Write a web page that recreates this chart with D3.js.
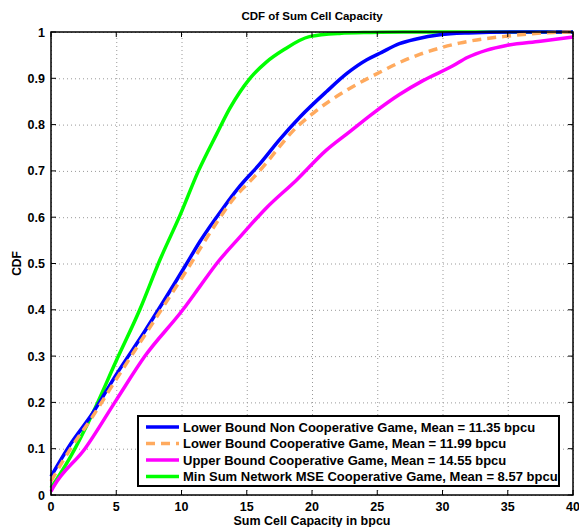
<html>
<head>
  <script src="https://d3js.org/d3.v7.min.js"></script>
  <style>
    body { margin: 0; background: #fff; }
    svg text { font-family: "Liberation Sans", Arial, sans-serif; font-weight: bold; }
    .grid line { stroke: #999; stroke-dasharray: 1,3; }
    .grid .domain { stroke: none; }
  </style>
</head>
<body>
  <svg id="chart" width="579" height="527"></svg>
  <script>
    // tick values
    const xTicks = [0, 5, 10, 15, 20, 25, 30, 35, 40];
    const yTicks = [0, 0.1, 0.2, 0.3, 0.4, 0.5, 0.6, 0.7, 0.8, 0.9, 1];

    // series (capacity in bpcu, CDF value)
    const blueX = [0, 1.5, 3.2, 5.0, 7.1, 10.4, 11.4, 13.2, 14.5, 16.0, 17.5, 19.1, 21.1, 22.7, 24.2, 25.2, 26.7, 28.0, 29.8, 32, 35.4, 40];
    const blueY = [0.04, 0.11, 0.177, 0.26, 0.35, 0.50, 0.547, 0.62, 0.668, 0.715, 0.767, 0.817, 0.871, 0.911, 0.94, 0.954, 0.975, 0.985, 0.994, 0.998, 1.0, 1.0];

    const orangeX = [0, 1.5, 3.2, 5.0, 7.3, 10.5, 12.5, 13.9, 15.5, 16.5, 17.3, 18.6, 20.1, 22.7, 25.2, 26.7, 28.3, 31.3, 34.9, 38.5, 40];
    const orangeY = [0.03, 0.10, 0.17, 0.25, 0.35, 0.49, 0.58, 0.637, 0.685, 0.717, 0.745, 0.788, 0.825, 0.875, 0.913, 0.934, 0.952, 0.976, 0.991, 0.999, 1.0];

    const magentaX = [0, 0.2, 2.6, 5.0, 7.2, 10.1, 11.4, 12.7, 14.5, 16.5, 18.8, 21.1, 22.9, 24.7, 26.7, 28.5, 30.8, 31.9, 33.4, 34.9, 37.5, 40];
    const magentaY = [0.008, 0.018, 0.10, 0.205, 0.30, 0.40, 0.45, 0.50, 0.558, 0.62, 0.68, 0.745, 0.785, 0.825, 0.865, 0.895, 0.927, 0.945, 0.961, 0.971, 0.98, 0.989];

    const greenX = [0, 1.5, 3.25, 5.0, 6.8, 8.35, 9.9, 11.3, 12.7, 13.7, 15.25, 16.5, 17.8, 19.8, 22.1, 24.5, 27, 40];
    const greenY = [0.015, 0.083, 0.18, 0.29, 0.40, 0.508, 0.605, 0.70, 0.78, 0.835, 0.90, 0.935, 0.961, 0.99, 0.997, 0.999, 1.0, 1.0];

    const legendLabels = [
      "Lower Bound Non Cooperative Game, Mean = 11.35 bpcu",
      "Lower Bound Cooperative Game, Mean = 11.99 bpcu",
      "Upper Bound Cooperative Game, Mean = 14.55 bpcu",
      "Min Sum Network MSE Cooperative Game, Mean = 8.57 bpcu"
    ];

    const svg = d3.select("svg#chart");
    const margin = { top: 32, right: 6, bottom: 32, left: 51 };
    const width = +svg.attr("width") - margin.left - margin.right;
    const height = +svg.attr("height") - margin.top - margin.bottom;

    const x = d3.scaleLinear().domain([0, 40]).range([0, width]);
    const y = d3.scaleLinear().domain([0, 1]).range([height, 0]);

    const g = svg.append("g").attr("transform", "translate(" + margin.left + "," + margin.top + ")");

    // grid
    g.append("g").attr("class", "grid")
      .attr("transform", "translate(0," + height + ")")
      .call(d3.axisBottom(x).tickValues(xTicks).tickSize(-height).tickFormat(""));
    g.append("g").attr("class", "grid")
      .call(d3.axisLeft(y).tickValues(yTicks).tickSize(-width).tickFormat(""));

    // curves
    const series = [
      { xs: blueX, ys: blueY, color: "#0000ff", dash: null },
      { xs: orangeX, ys: orangeY, color: "#ffaa5e", dash: "9,6" },
      { xs: magentaX, ys: magentaY, color: "#ff00ff", dash: null },
      { xs: greenX, ys: greenY, color: "#00ff00", dash: null }
    ];
    const line = d3.line().curve(d3.curveMonotoneX).x(d => x(d[0])).y(d => y(d[1]));

    // green and magenta first, blue then orange on top
    [3, 2, 0, 1].forEach(i => {
      const s = series[i];
      g.append("path")
        .datum(d3.zip(s.xs, s.ys))
        .attr("d", line)
        .attr("fill", "none")
        .attr("stroke", s.color)
        .attr("stroke-width", 3.5)
        .attr("stroke-dasharray", s.dash);
    });

    // frame and ticks
    g.append("rect").attr("width", width).attr("height", height)
      .attr("fill", "none").attr("stroke", "#000").attr("stroke-width", 1.5);

    const tickLen = 5;
    xTicks.forEach(t => {
      g.append("line").attr("x1", x(t)).attr("x2", x(t)).attr("y1", height).attr("y2", height - tickLen).attr("stroke", "#000");
      g.append("line").attr("x1", x(t)).attr("x2", x(t)).attr("y1", 0).attr("y2", tickLen).attr("stroke", "#000");
      g.append("text").text(d3.format("")(t))
        .attr("x", x(t)).attr("y", height + 16)
        .attr("text-anchor", "middle").attr("font-size", "12.5px");
    });
    yTicks.forEach(t => {
      g.append("line").attr("x1", 0).attr("x2", tickLen).attr("y1", y(t)).attr("y2", y(t)).attr("stroke", "#000");
      g.append("line").attr("x1", width).attr("x2", width - tickLen).attr("y1", y(t)).attr("y2", y(t)).attr("stroke", "#000");
      g.append("text").text(d3.format("")(t))
        .attr("x", -6).attr("y", y(t) + 4.5)
        .attr("text-anchor", "end").attr("font-size", "12.5px");
    });

    // titles
    svg.append("text").text("CDF of Sum Cell Capacity")
      .attr("x", margin.left + width / 2).attr("y", 20)
      .attr("text-anchor", "middle").attr("font-size", "11.5px");
    svg.append("text").text("Sum Cell Capacity in bpcu")
      .attr("x", margin.left + width / 2).attr("y", 525)
      .attr("text-anchor", "middle").attr("font-size", "12.5px");
    svg.append("text").text("CDF")
      .attr("transform", "translate(21," + (margin.top + height / 2) + ") rotate(-90)")
      .attr("text-anchor", "middle").attr("font-size", "12px");

    // legend
    const lg = svg.append("g").attr("transform", "translate(138,416)");
    lg.append("rect").attr("width", 421).attr("height", 70)
      .attr("fill", "#fff").attr("stroke", "#000").attr("stroke-width", 2);
    legendLabels.forEach((label, i) => {
      const s = series[i];
      const ly = 11 + i * 16.5;
      lg.append("line").attr("x1", 8).attr("x2", 41).attr("y1", ly).attr("y2", ly)
        .attr("stroke", s.color).attr("stroke-width", 3.5).attr("stroke-dasharray", s.dash);
      lg.append("text").text(label)
        .attr("x", 45).attr("y", ly + 4.5).attr("font-size", "13px");
    });
  </script>
</body>
</html>
